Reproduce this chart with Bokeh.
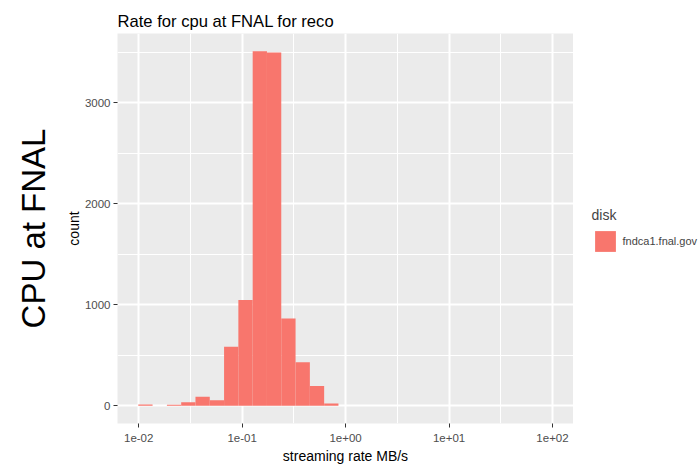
from bokeh.plotting import figure
from bokeh.layouts import row
from bokeh.models import (Range1d, FixedTicker, Legend, LegendItem, Title,
                          ColumnDataSource)
from bokeh.embed import file_html
from bokeh.resources import INLINE

# histogram bins (streaming rate, MB/s) and counts
bin_left = [0.009908, 0.01362, 0.01873, 0.02574, 0.03538, 0.04864, 0.06686,
            0.09192, 0.1264, 0.1737, 0.2388, 0.3283, 0.4513, 0.6204]
bin_right = [0.01362, 0.01873, 0.02574, 0.03538, 0.04864, 0.06686, 0.09192,
             0.1264, 0.1737, 0.2388, 0.3283, 0.4513, 0.6204, 0.8529]
counts = [12, 0, 10, 35, 90, 55, 584, 1046, 3509, 3497, 863, 430, 195, 22]
series_name = "fndca1.fnal.gov"

x_ticks = [0.01, 0.1, 1, 10, 100]
x_tick_labels = ["1e-02", "1e-01", "1e+00", "1e+01", "1e+02"]
x_minor = [10 ** -1.5, 10 ** -0.5, 10 ** 0.5, 10 ** 1.5]
y_ticks = [0, 1000, 2000, 3000]
y_minor = [500, 1500, 2500, 3500]

FONT = "Liberation Sans"
BAR = "#F8766D"

src = ColumnDataSource(dict(left=bin_left, right=bin_right, top=counts,
                            bottom=[0] * len(counts)))

p = figure(width=573, height=466, output_backend="svg", toolbar_location=None,
           x_axis_type="log",
           x_range=Range1d(10 ** -2.205, 10 ** 2.203),
           y_range=Range1d(-176, 3685),
           min_border_left=117, min_border_right=0,
           min_border_top=33, min_border_bottom=37)

p.background_fill_color = "#EBEBEB"
p.border_fill_color = "white"
p.outline_line_color = None

r = p.quad(left="left", right="right", top="top", bottom="bottom", source=src,
           fill_color=BAR, line_color=None)

# title
p.title.text = "Rate for cpu at FNAL for reco"
p.title.text_font = FONT
p.title.text_font_size = "16.6px"
p.title.text_font_style = "normal"
p.title.text_color = "black"
p.title.align = "left"
p.title.standoff = 6

# axes
xt = FixedTicker(ticks=x_ticks, minor_ticks=x_minor)
yt = FixedTicker(ticks=y_ticks, minor_ticks=y_minor)
p.xaxis.ticker = xt
p.yaxis.ticker = yt
p.xaxis.major_label_overrides = {t: l for t, l in zip(x_ticks, x_tick_labels)}
p.xaxis.axis_label = "streaming rate MB/s"
p.yaxis.axis_label = "count"
for ax in (p.xaxis, p.yaxis):
    ax.axis_line_color = None
    ax.minor_tick_line_color = None
    ax.major_tick_in = 0
    ax.major_tick_out = 4
    ax.major_tick_line_color = "#333333"
    ax.major_label_text_font = FONT
    ax.major_label_text_font_size = "11.5px"
    ax.major_label_text_color = "#4D4D4D"
    ax.axis_label_text_font = FONT
    ax.axis_label_text_font_size = "14px"
    ax.axis_label_text_font_style = "normal"
    ax.axis_label_text_color = "black"
p.xaxis.major_label_standoff = 6
p.yaxis.major_label_standoff = 3
p.xaxis.axis_label_standoff = 3
p.yaxis.axis_label_standoff = 0

# grid
for g in (p.xgrid, p.ygrid):
    g.grid_line_color = "white"
    g.grid_line_width = 2
    g.minor_grid_line_color = "white"
    g.minor_grid_line_width = 1
p.xgrid.ticker = xt
p.ygrid.ticker = yt

# big left label
big = Title(text="CPU at FNAL", align="center", text_font=FONT,
            text_font_size="33px", text_font_style="normal",
            text_color="black", standoff=21)
p.add_layout(big, "left")

# legend panel (separate figure to the right)
p2 = figure(width=127, height=466, output_backend="svg", toolbar_location=None,
            title=None, x_range=Range1d(0, 1), y_range=Range1d(0, 1),
            x_axis_location=None, y_axis_location=None,
            min_border_left=0, min_border_right=0,
            min_border_top=0, min_border_bottom=0)
p2.outline_line_color = None
p2.background_fill_color = "white"
p2.border_fill_color = "white"
p2.xgrid.visible = False
p2.ygrid.visible = False
# legend key only (placed outside the visible range)
key = p2.quad(left=[2], right=[3], top=[3], bottom=[2], fill_color=BAR,
              line_color=None)

legend = Legend(items=[LegendItem(label=series_name, renderers=[key])],
                title="disk", location=(18.5, 169.5),
                background_fill_alpha=0, border_line_color=None,
                padding=0, margin=0, glyph_width=26, glyph_height=26,
                label_standoff=5, title_standoff=5,
                label_text_font=FONT, label_text_font_size="11px",
                title_text_font=FONT, title_text_font_size="14px",
                title_text_font_style="normal")
p2.add_layout(legend)

layout = row(p, p2, spacing=0)
open("out.html", "w").write(file_html(layout, INLINE))
